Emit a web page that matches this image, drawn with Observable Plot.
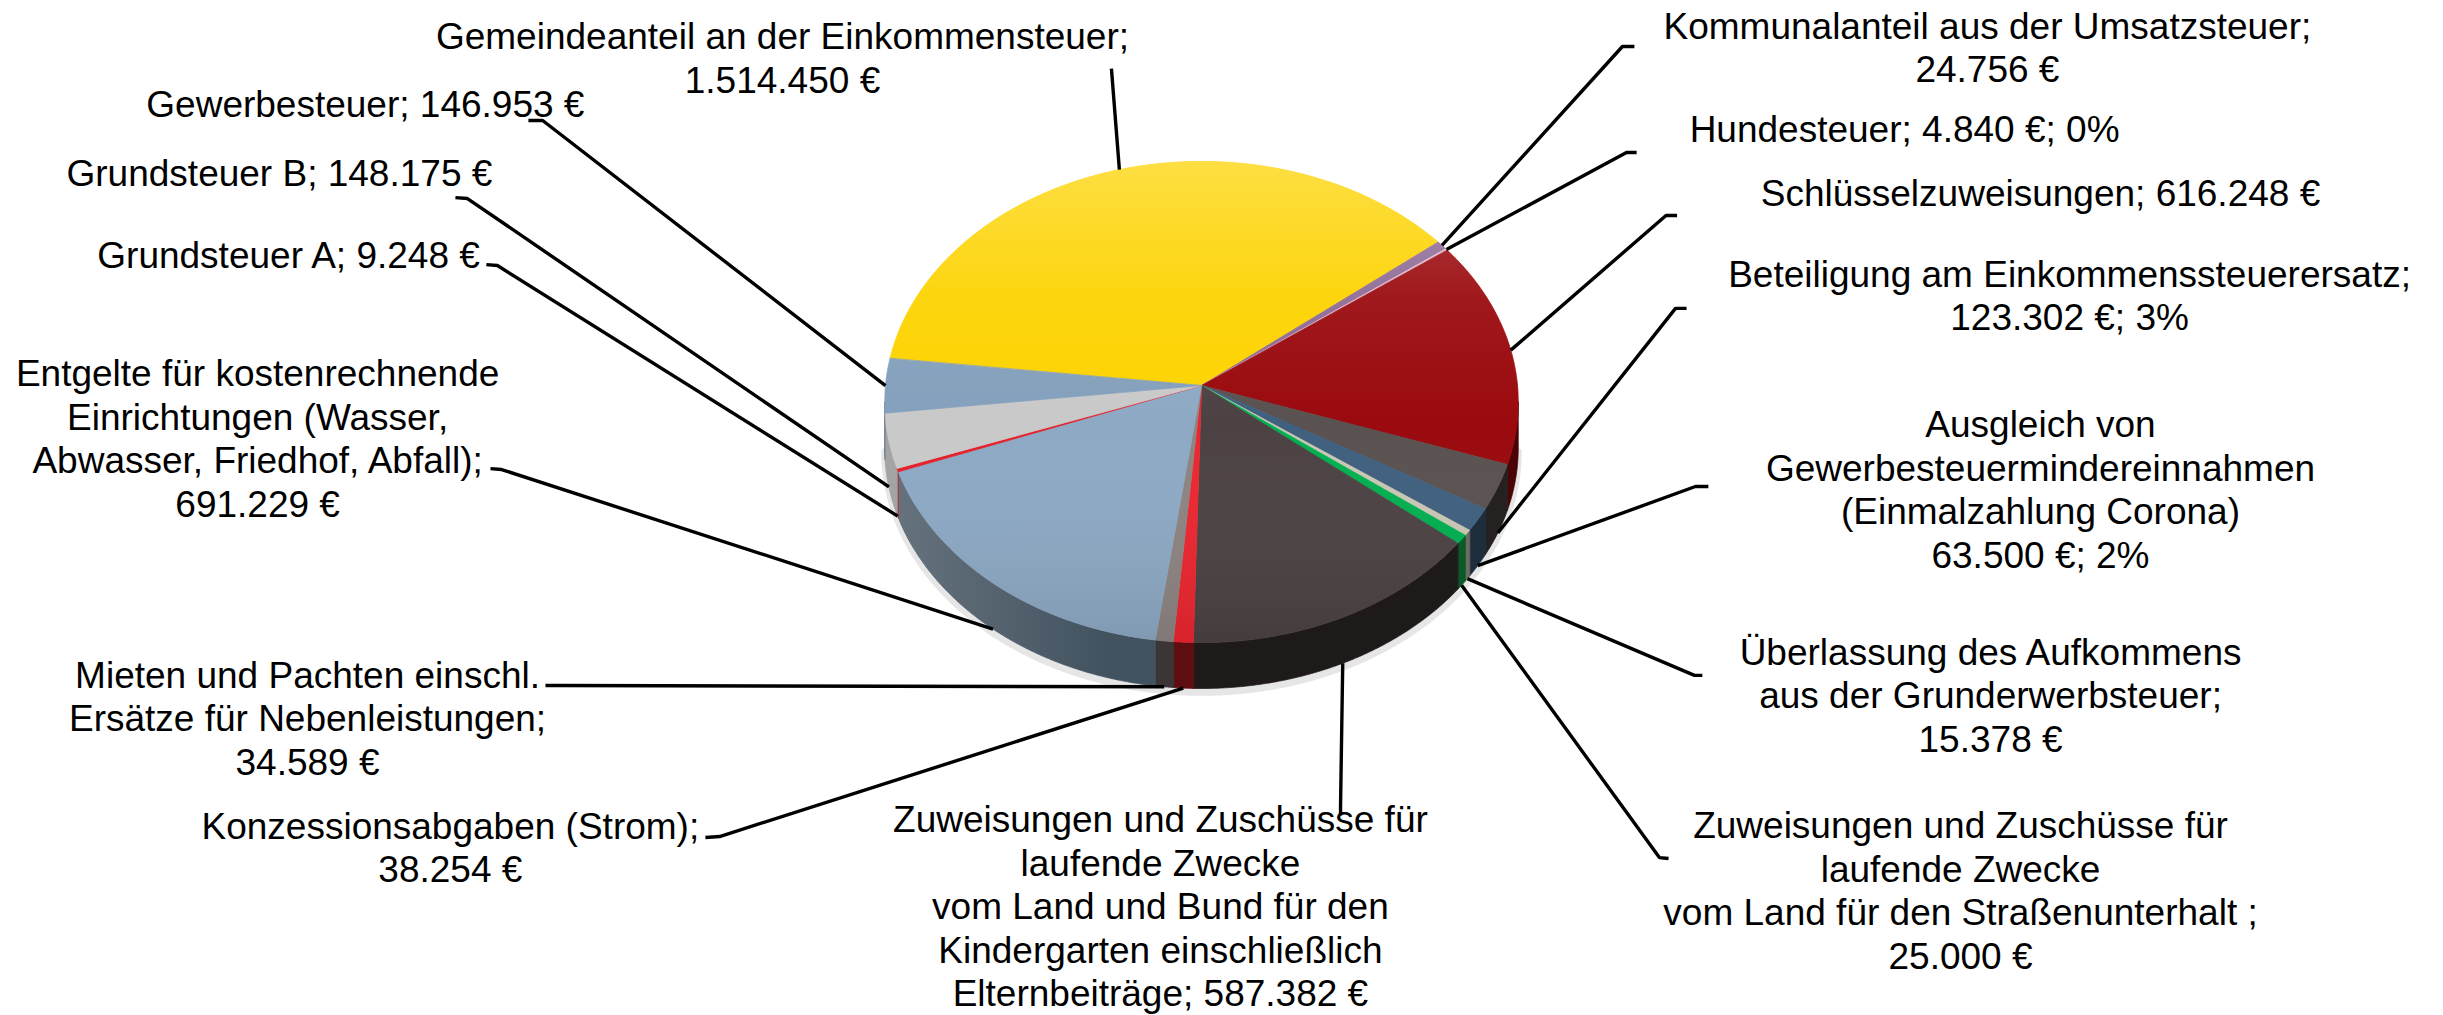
<!DOCTYPE html>
<html>
<head>
<meta charset="utf-8">
<script src="https://cdn.jsdelivr.net/npm/d3@7"></script>
<script src="https://cdn.jsdelivr.net/npm/@observablehq/plot@0.6"></script>
<style>
  html, body { margin: 0; padding: 0; background: #ffffff; }
  #chart svg { display: block; }
</style>
</head>
<body>
<div id="chart"></div>
<script>
// ---------------- data ----------------
const categories = [
  "Gemeindeanteil an der Einkommensteuer",
  "Kommunalanteil aus der Umsatzsteuer",
  "Hundesteuer",
  "Schlüsselzuweisungen",
  "Beteiligung am Einkommenssteuerersatz",
  "Ausgleich von Gewerbesteuermindereinnahmen (Einmalzahlung Corona)",
  "Überlassung des Aufkommens aus der Grunderwerbsteuer",
  "Zuweisungen und Zuschüsse für laufende Zwecke vom Land für den Straßenunterhalt",
  "Zuweisungen und Zuschüsse für laufende Zwecke vom Land und Bund für den Kindergarten einschließlich Elternbeiträge",
  "Konzessionsabgaben (Strom)",
  "Mieten und Pachten einschl. Ersätze für Nebenleistungen",
  "Entgelte für kostenrechnende Einrichtungen (Wasser, Abwasser, Friedhof, Abfall)",
  "Grundsteuer A",
  "Grundsteuer B",
  "Gewerbesteuer"
];
const values = [1514450, 24756, 4840, 616248, 123302, 63500, 15378, 25000, 587382, 38254, 34589, 691229, 9248, 148175, 146953];
const labelTexts = [
  "Gemeindeanteil an der Einkommensteuer;\n1.514.450 €",
  "Kommunalanteil aus der Umsatzsteuer;\n24.756 €",
  "Hundesteuer; 4.840 €; 0%",
  "Schlüsselzuweisungen; 616.248 €",
  "Beteiligung am Einkommenssteuerersatz;\n123.302 €; 3%",
  "Ausgleich von\nGewerbesteuermindereinnahmen\n(Einmalzahlung Corona)\n63.500 €; 2%",
  "Überlassung des Aufkommens\naus der Grunderwerbsteuer;\n15.378 €",
  "Zuweisungen und Zuschüsse für\nlaufende Zwecke\nvom Land für den Straßenunterhalt ;\n25.000 €",
  "Zuweisungen und Zuschüsse für\nlaufende Zwecke\nvom Land und Bund für den\nKindergarten einschließlich\nElternbeiträge; 587.382 €",
  "Konzessionsabgaben (Strom);\n38.254 €",
  "Mieten und Pachten einschl.\nErsätze für Nebenleistungen;\n34.589 €",
  "Entgelte für kostenrechnende\nEinrichtungen (Wasser,\nAbwasser, Friedhof, Abfall);\n691.229 €",
  "Grundsteuer A; 9.248 €",
  "Grundsteuer B; 148.175 €",
  "Gewerbesteuer; 146.953 €"
];

// ---------------- styles ----------------
const topColors = ["#fdd300", "#8e6a96", "#e3b5c9", "#9a0a0e", "#5a5151", "#40607f", "#cbc7b5", "#00b050",
                   "#4c4243", "#ec2630", "#8d8482", "#8da9c4", "#e4202a", "#c9c9c9", "#84a0bc"];
const sideColors = ["#b89a00", "#5a3f60", "#9a7080", "#4a0406", "#262121", "#1d2d3c", "#6e6b60", "#0b5a2a",
                    "#1f1a1a", "#5e0d11", "#3b3535", "#42525f", "#8a1015", "#8e8e8e", "#55697e"];

// ---------------- layout (pie units: 1 = pie radius) ----------------
const W = 2443, H = 1015;
const pieCxPx = 1201, pieCyPx = 385, pieRxPx = 316, pieRyPx = 239.4;
const startDeg = -83.5;
const K = 0.0686;       // perspective
const DEPTH = 0.192;    // side wall height
const labelX = [-1.326, 2.487, 2.225, 2.655, 2.747, 2.655, 2.497, 2.402, -0.130, -2.377, -2.829, -2.987, -2.889, -2.918, -2.646];
const labelY = [-1.372, -1.416, -1.074, -0.806, -0.380, 0.430, 1.291, 2.105, 2.172, 1.926, 1.387, 0.217, -0.547, -0.890, -1.178];
const leaderStart = [[-0.285,-1.324],[1.370,-1.416],[1.377,-0.973],[1.505,-0.710],[1.535,-0.322],[1.604,0.422],[1.585,1.211],[1.478,1.976],[0.440,1.796],[-1.570,1.888],[-2.076,1.253],[-2.250,0.347],[-2.263,-0.505],[-2.361,-0.785],[-2.130,-1.107]];
const leaderBend  = [[-0.285,-1.324],[1.332,-1.416],[1.345,-0.973],[1.470,-0.710],[1.500,-0.322],[1.563,0.422],[1.560,1.211],[1.449,1.972],[0.440,1.754],[-1.525,1.884],[-2.041,1.253],[-2.215,0.351],[-2.228,-0.501],[-2.323,-0.781],[-2.085,-1.107]];

// ---------------- geometry ----------------
function proj(a, drop = 0) {
  const u = Math.sin(a), v = -Math.cos(a);
  const w = 1 / (1 - K * v);
  return [u * w, v * w + drop];
}
const start = startDeg * Math.PI / 180;
const arcs = d3.pie().sort(null).value(d => d).startAngle(start).endAngle(start + 2 * Math.PI)(values);
const STEP = Math.PI / 720;
function arcPts(a0, a1, drop) {
  const n = Math.max(2, Math.ceil(Math.abs(a1 - a0) / STEP));
  const pts = [];
  for (let i = 0; i <= n; i++) pts.push(proj(a0 + (a1 - a0) * i / n, drop));
  return pts;
}

const topRows = [], sideRows = [], overlayTop = [], overlaySide = [], shadowRows = [];
arcs.forEach((arc, i) => {
  const key = categories[i];
  topRows.push({key, x: 0, y: 0});
  for (const [x, y] of arcPts(arc.startAngle, arc.endAngle, 0)) topRows.push({key, x, y});
});
// visible side band: angles where the rim faces the viewer
const vis0 = Math.acos(-K), vis1 = 2 * Math.PI - Math.acos(-K);
arcs.forEach((arc, i) => {
  const key = categories[i] + "|side";
  for (const off of [-2 * Math.PI, 0, 2 * Math.PI]) {
    const s = Math.max(arc.startAngle, vis0 + off), e = Math.min(arc.endAngle, vis1 + off);
    if (e <= s) continue;
    const id = key + off;
    for (const [x, y] of arcPts(s, e, 0)) sideRows.push({key, id, x, y});
    for (const [x, y] of arcPts(s, e, DEPTH).reverse()) sideRows.push({key, id, x, y});
  }
});
for (const [x, y] of arcPts(0, 2 * Math.PI, 0)) overlayTop.push({x, y});
for (const [x, y] of arcPts(vis0, vis1, 0)) overlaySide.push({x, y});
for (const [x, y] of arcPts(vis0, vis1, DEPTH).reverse()) overlaySide.push({x, y});
for (const [x, y] of arcPts(vis0, vis1, DEPTH + 0.016)) shadowRows.push({x, y});

// leader lines: label stub -> bend -> slice middle on the rim
const leaderRows = [];
arcs.forEach((arc, i) => {
  const m = (arc.startAngle + arc.endAngle) / 2;
  const v = -Math.cos(m);
  const end = proj(m, v > 0.05 ? DEPTH : 0);
  leaderRows.push({id: i, x: leaderStart[i][0], y: leaderStart[i][1]});
  leaderRows.push({id: i, x: leaderBend[i][0], y: leaderBend[i][1]});
  leaderRows.push({id: i, x: end[0], y: end[1]});
});
const labelRows = categories.map((c, i) => ({text: labelTexts[i], x: labelX[i], y: labelY[i]}));

const colorDomain = [...categories, ...categories.map(c => c + "|side")];
const colorRange = [...topColors, ...sideColors];

const svg = Plot.plot({
  width: W, height: H, margin: 0,
  style: {background: "#ffffff", overflow: "visible"},
  x: {domain: [-pieCxPx / pieRxPx, (W - pieCxPx) / pieRxPx], range: [0, W], axis: null},
  y: {domain: [-pieCyPx / pieRyPx, (H - pieCyPx) / pieRyPx], range: [0, H], axis: null},
  color: {domain: colorDomain, range: colorRange},
  marks: [
    Plot.line(shadowRows, {x: "x", y: "y", stroke: "#9a9a9a", strokeOpacity: 0.25, strokeWidth: 7}),
    Plot.line(sideRows, {x: "x", y: "y", z: "id", fill: "key", stroke: "key", strokeWidth: 0.8, curve: "linear-closed"}),
    Plot.line(overlaySide, {x: "x", y: "y", fill: "url(#sideShade)", stroke: "none", curve: "linear-closed"}),
    Plot.line(topRows, {x: "x", y: "y", z: "key", fill: "key", stroke: "key", strokeWidth: 0.8, curve: "linear-closed"}),
    Plot.line(overlayTop, {x: "x", y: "y", fill: "url(#topShade)", stroke: "none", curve: "linear-closed"}),
    Plot.line(leaderRows, {x: "x", y: "y", z: "id", stroke: "#000000", strokeWidth: 3.4, strokeLinecap: "butt", strokeLinejoin: "miter", curve: "linear"}),
    Plot.text(labelRows, {x: "x", y: "y", text: "text", fontSize: 37, lineHeight: 1.175,
      fontFamily: "'Liberation Sans', Arial, sans-serif", textAnchor: "middle", lineAnchor: "middle", fill: "#000000"})
  ]
});

// gradients used for the lighting of the 3D pie
const defs = d3.select(svg).insert("defs", ":first-child");
const tg = defs.append("linearGradient").attr("id", "topShade").attr("x1", 0).attr("y1", 0).attr("x2", 0).attr("y2", 1);
[[0, "#ffffff", 0.26], [0.28, "#ffffff", 0.06], [0.55, "#ffffff", 0], [1, "#000000", 0.09]]
  .forEach(([o, c, a]) => tg.append("stop").attr("offset", o).attr("stop-color", c).attr("stop-opacity", a));
const sg = defs.append("linearGradient").attr("id", "sideShade").attr("x1", 0).attr("y1", 0).attr("x2", 1).attr("y2", 0);
[[0, "#ffffff", 0.2], [0.35, "#ffffff", 0.0], [1, "#ffffff", 0]]
  .forEach(([o, c, a]) => sg.append("stop").attr("offset", o).attr("stop-color", c).attr("stop-opacity", a));

document.getElementById("chart").appendChild(svg);
</script>
</body>
</html>
